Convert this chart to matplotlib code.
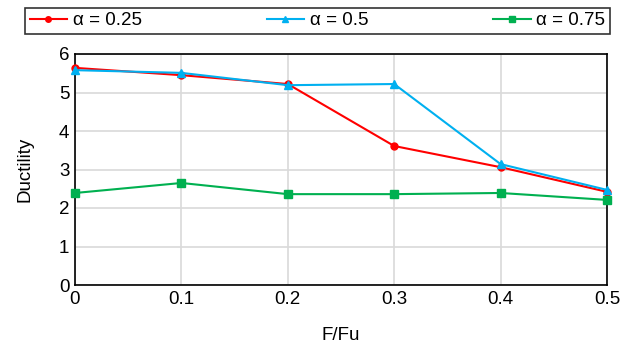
import matplotlib
matplotlib.use("Agg")
import matplotlib.pyplot as plt

plt.rcParams['font.family'] = ['Liberation Sans', 'DejaVu Sans']

x = [0, 0.1, 0.2, 0.3, 0.4, 0.5]
a025 = [5.64, 5.45, 5.22, 3.61, 3.06, 2.42]
a050 = [5.58, 5.51, 5.19, 5.22, 3.14, 2.47]
a075 = [2.39, 2.65, 2.36, 2.36, 2.39, 2.21]
labels = ['α = 0.25', 'α = 0.5', 'α = 0.75']

fig = plt.figure(figsize=(6.34, 3.47), dpi=100)
ax = fig.add_axes([75/634, 1-285/347, (607-75)/634, (285-54)/347])

l1, = ax.plot(x, a025, color='#ff0000', marker='o', markersize=5, lw=1.5, clip_on=False, zorder=3)
l2, = ax.plot(x, a050, color='#00b0f0', marker='^', markersize=6, lw=1.5, clip_on=False, zorder=3)
l3, = ax.plot(x, a075, color='#00b050', marker='s', markersize=6, lw=1.5, clip_on=False, zorder=3)

ax.set_xlim(0, 0.5)
ax.set_ylim(0, 6)
ax.set_xticks(x)
ax.set_xticklabels(['0', '0.1', '0.2', '0.3', '0.4', '0.5'])
ax.set_yticks(range(7))
ax.grid(True, color='#d9d9d9', lw=1.2)
ax.set_axisbelow(True)
for s in ax.spines.values():
    s.set_color('black')
    s.set_linewidth(1.2)
ax.tick_params(length=0, labelsize=13.5, pad=4)
ax.set_xlabel('F/Fu', fontsize=13.5, labelpad=14)
ax.set_ylabel('Ductility', fontsize=13.5, labelpad=18)

leg = fig.legend([l1, l2, l3], labels, loc='lower left',
                 bbox_to_anchor=(25/634, 1-34/347, 585/634, 31/347), mode='expand',
                 ncol=3, fontsize=13.5, frameon=True, fancybox=False, edgecolor='black',
                 handlelength=2.0, handletextpad=0.3, borderpad=0.25, borderaxespad=0,
                 markerscale=0.8)
leg.get_frame().set_linewidth(1.2)

fig.savefig('out.png', dpi=100)
